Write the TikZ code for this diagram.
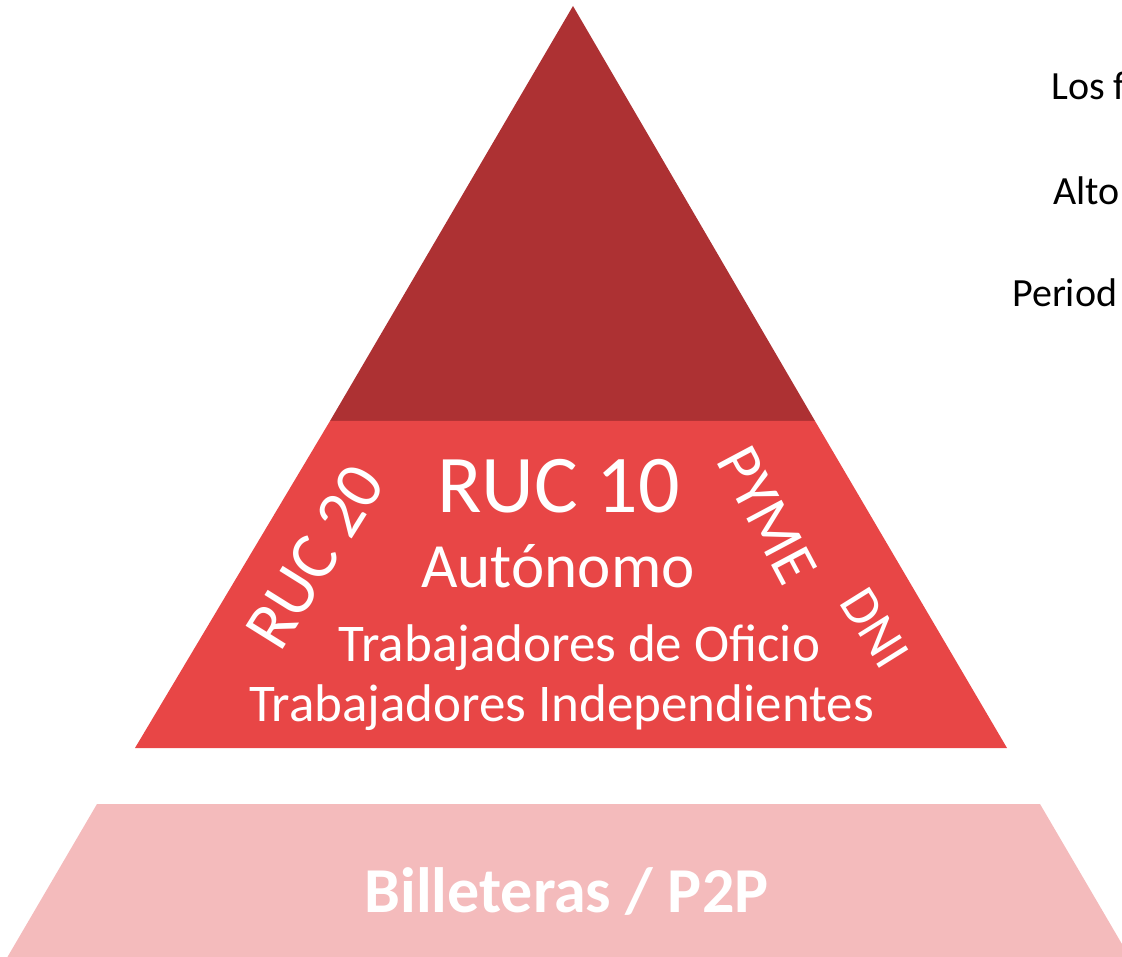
\documentclass[tikz,border=0pt]{standalone}
\usepackage{fontspec}
\setmainfont{Carlito}
\definecolor{topred}{RGB}{173,49,51}
\definecolor{midred}{RGB}{232,70,70}
\definecolor{lowpink}{RGB}{244,187,188}
\begin{document}
\begin{tikzpicture}[x=1pt,y=-1pt,
  wtxt/.style={text=white,inner sep=0pt,anchor=base},
  rtxt/.style={text=white,inner sep=0pt},
  btxt/.style={text=black,inner sep=0pt,anchor=base west,font=\fontsize{40}{48}\selectfont}]
\useasboundingbox (0,0) rectangle (1122,957);
\clip (0,0) rectangle (1122,957);
% shapes
\fill[topred] (573,6) -- (815,421) -- (330,421) -- cycle;
\fill[midred] (330,421) -- (815,421) -- (1007,748) -- (135,748) -- cycle;
\fill[lowpink] (97,804) -- (1040,804) -- (1143,980) -- (-6,980) -- cycle;
% middle texts
\node[wtxt,font=\fontsize{82}{90}\selectfont] (ruc10) at (558.5,512) {RUC 10};
\node[wtxt,font=\fontsize{63}{70}\selectfont] (auto) at (558,587) {Autónomo};
\node[wtxt,font=\fontsize{53}{60}\selectfont] (oficio) at (579.5,661) {Trabajadores de Oficio};
\node[wtxt,font=\fontsize{53}{60}\selectfont] (indep) at (561.5,721) {Trabajadores Independientes};
\node[rtxt,rotate=58,font=\fontsize{68}{76}\selectfont] (ruc20) at (315,557) {RUC 20};
\node[rtxt,rotate=-62,font=\fontsize{62}{70}\selectfont] (pyme) at (767,515) {PYME};
\node[rtxt,rotate=-58,font=\fontsize{54}{62}\selectfont] (dni) at (875,628) {DNI};
% bottom text
\node[wtxt,font=\bfseries\fontsize{64}{72}\selectfont] (bill) at (566.5,912) {Billeteras / P2P};
% right texts
\node[btxt] (los) at (1051,100) {Los f};
\node[btxt] (alto) at (1053,205) {Alto};
\node[btxt] (period) at (1012,307) {Period};
\end{tikzpicture}
\end{document}
